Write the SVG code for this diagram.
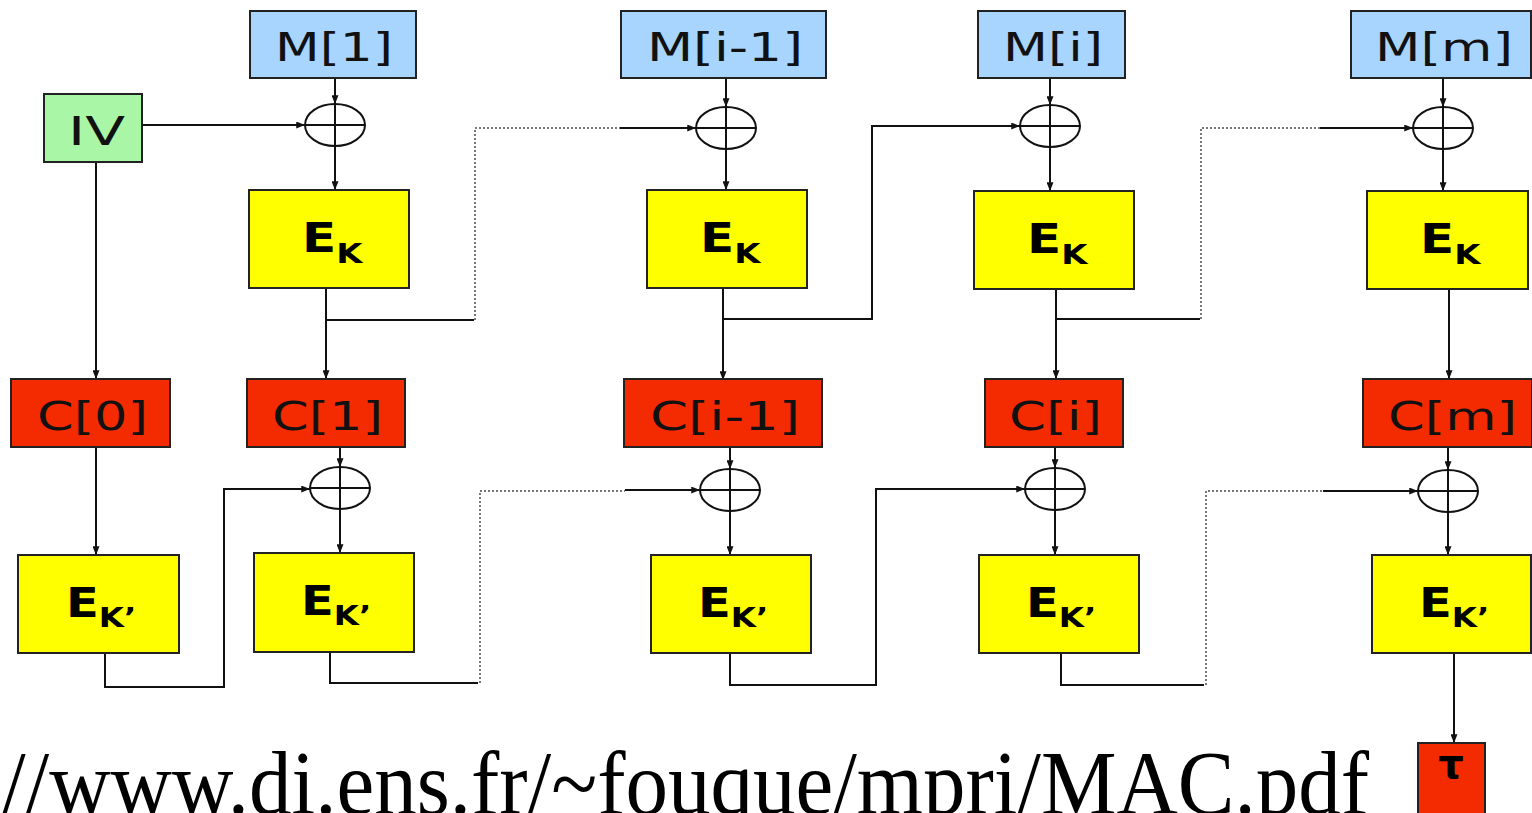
<svg xmlns="http://www.w3.org/2000/svg" width="1532" height="813" viewBox="0 0 1532 813">
<defs>
<marker id="arr" viewBox="0 0 10 8" refX="10" refY="4" markerWidth="9" markerHeight="7" markerUnits="userSpaceOnUse" orient="auto">
<path d="M0,0 L10,4 L0,8 z" fill="#111"/>
</marker>
<style>
.box{stroke:#222;stroke-width:2}
.blue{fill:#a8d5fd}
.green{fill:#a9f7a6}
.red{fill:#f42a00}
.yel{fill:#ffff00}
.lbl{font-family:"DejaVu Sans","Verdana",sans-serif;font-size:39px;fill:#111}
.ek{font-family:"DejaVu Sans","Verdana",sans-serif;font-weight:bold;font-size:40px;fill:#000}
.sub{font-size:27px}
.ln{fill:none;stroke:#111;stroke-width:2}
.ar{fill:none;stroke:#111;stroke-width:2;marker-end:url(#arr)}
.dot{fill:none;stroke:#777;stroke-width:2;stroke-dasharray:2 2}
.xor{fill:none;stroke:#111;stroke-width:2}
.url{font-family:"Liberation Serif","Times New Roman",serif;font-size:85px;fill:#000}
</style>
</defs>
<rect width="1532" height="813" fill="#fff"/>

<g id="connectors">
<path class="ar" d="M142,125 H305"/>
<path class="ar" d="M96,162 V379"/>
<path class="ar" d="M96,447 V555"/>
<path class="ar" d="M335,78 V104"/>
<path class="ar" d="M335,146 V190"/>
<path class="ar" d="M326,288 V379"/>
<path class="ln" d="M326,320 H474"/>
<path class="dot" d="M475,320 V128 H620"/>
<path class="ar" d="M620,128 H696"/>
<path class="ar" d="M726,78 V107"/>
<path class="ar" d="M726,149 V190"/>
<path class="ar" d="M723,288 V380"/>
<path class="ar" d="M723,319 H872 V126 H1020"/>
<path class="ar" d="M1050,78 V105"/>
<path class="ar" d="M1050,147 V191"/>
<path class="ar" d="M1056,289 V379"/>
<path class="ln" d="M1056,319 H1200"/>
<path class="dot" d="M1201,319 V128 H1320"/>
<path class="ar" d="M1320,128 H1413"/>
<path class="ar" d="M1443,78 V107"/>
<path class="ar" d="M1443,149 V191"/>
<path class="ar" d="M1449,289 V379"/>
<path class="ar" d="M340,447 V467"/>
<path class="ar" d="M340,509 V553"/>
<path class="ar" d="M105,653 V687 H224 V489 H310"/>
<path class="ln" d="M330,652 V683 H478"/>
<path class="dot" d="M480,683 V491 H625"/>
<path class="ar" d="M625,490 H700"/>
<path class="ar" d="M730,447 V469"/>
<path class="ar" d="M730,511 V555"/>
<path class="ar" d="M730,653 V685 H876 V489 H1025"/>
<path class="ar" d="M1055,447 V468"/>
<path class="ar" d="M1055,510 V555"/>
<path class="ln" d="M1061,653 V685 H1204"/>
<path class="dot" d="M1206,685 V491 H1323"/>
<path class="ar" d="M1323,491 H1418"/>
<path class="ar" d="M1448,447 V470"/>
<path class="ar" d="M1448,512 V555"/>
<path class="ar" d="M1454,653 V743"/>
</g>

<g id="xor1"><ellipse class="xor" cx="335" cy="125" rx="30" ry="21"/><path class="ln" d="M305,125 H365 M335,104 V146"/></g>
<g id="xor2"><ellipse class="xor" cx="726" cy="128" rx="30" ry="21"/><path class="ln" d="M696,128 H756 M726,107 V149"/></g>
<g id="xor3"><ellipse class="xor" cx="1050" cy="126" rx="30" ry="21"/><path class="ln" d="M1020,126 H1080 M1050,105 V147"/></g>
<g id="xor4"><ellipse class="xor" cx="1443" cy="128" rx="30" ry="21"/><path class="ln" d="M1413,128 H1473 M1443,107 V149"/></g>
<g id="xor5"><ellipse class="xor" cx="340" cy="488" rx="30" ry="21"/><path class="ln" d="M310,488 H370 M340,467 V509"/></g>
<g id="xor6"><ellipse class="xor" cx="730" cy="490" rx="30" ry="21"/><path class="ln" d="M700,490 H760 M730,469 V511"/></g>
<g id="xor7"><ellipse class="xor" cx="1055" cy="489" rx="30" ry="21"/><path class="ln" d="M1025,489 H1085 M1055,468 V510"/></g>
<g id="xor8"><ellipse class="xor" cx="1448" cy="491" rx="30" ry="21"/><path class="ln" d="M1418,491 H1478 M1448,470 V512"/></g>

<g id="M1"><rect class="box blue" x="250" y="11" width="166" height="67"/><text class="lbl" x="275" y="61" textLength="118" lengthAdjust="spacingAndGlyphs">M[1]</text></g>
<g id="Mi-1"><rect class="box blue" x="621" y="11" width="205" height="67"/><text class="lbl" x="647" y="61" textLength="156" lengthAdjust="spacingAndGlyphs">M[i-1]</text></g>
<g id="Mi"><rect class="box blue" x="978" y="11" width="147" height="67"/><text class="lbl" x="1003" y="61" textLength="100" lengthAdjust="spacingAndGlyphs">M[i]</text></g>
<g id="Mm"><rect class="box blue" x="1351" y="11" width="180" height="67"/><text class="lbl" x="1375" y="61" textLength="138" lengthAdjust="spacingAndGlyphs">M[m]</text></g>
<g id="IV"><rect class="box green" x="44" y="94" width="98" height="68"/><text class="lbl" x="68" y="145" font-size="41" textLength="57" lengthAdjust="spacingAndGlyphs">IV</text></g>

<g id="EK1"><rect class="box yel" x="249" y="190" width="160" height="98"/><text class="ek" transform="translate(302,252) scale(1.25,1)">E<tspan class="sub" dy="11">K</tspan></text></g>
<g id="EK2"><rect class="box yel" x="647" y="190" width="160" height="98"/><text class="ek" transform="translate(700,252) scale(1.25,1)">E<tspan class="sub" dy="11">K</tspan></text></g>
<g id="EK3"><rect class="box yel" x="974" y="191" width="160" height="98"/><text class="ek" transform="translate(1027,253) scale(1.25,1)">E<tspan class="sub" dy="11">K</tspan></text></g>
<g id="EK4"><rect class="box yel" x="1367" y="191" width="161" height="98"/><text class="ek" transform="translate(1420,253) scale(1.25,1)">E<tspan class="sub" dy="11">K</tspan></text></g>

<g id="C0"><rect class="box red" x="11" y="379" width="159" height="68"/><text class="lbl" x="37" y="430" font-size="41" textLength="111" lengthAdjust="spacingAndGlyphs">C[0]</text></g>
<g id="C1"><rect class="box red" x="247" y="379" width="158" height="68"/><text class="lbl" x="272" y="430" font-size="41" textLength="111" lengthAdjust="spacingAndGlyphs">C[1]</text></g>
<g id="Ci-1"><rect class="box red" x="624" y="379" width="198" height="68"/><text class="lbl" x="650" y="430" font-size="41" textLength="150" lengthAdjust="spacingAndGlyphs">C[i-1]</text></g>
<g id="Ci"><rect class="box red" x="985" y="379" width="138" height="68"/><text class="lbl" x="1009" y="430" font-size="41" textLength="93" lengthAdjust="spacingAndGlyphs">C[i]</text></g>
<g id="Cm"><rect class="box red" x="1363" y="379" width="169" height="68"/><text class="lbl" x="1388" y="430" font-size="41" textLength="129" lengthAdjust="spacingAndGlyphs">C[m]</text></g>

<g id="EKp1"><rect class="box yel" x="18" y="555" width="161" height="98"/><text class="ek" transform="translate(66,617) scale(1.2,1)">E<tspan class="sub" dy="10">K’</tspan></text></g>
<g id="EKp2"><rect class="box yel" x="254" y="553" width="160" height="99"/><text class="ek" transform="translate(301,615) scale(1.2,1)">E<tspan class="sub" dy="10">K’</tspan></text></g>
<g id="EKp3"><rect class="box yel" x="651" y="555" width="160" height="98"/><text class="ek" transform="translate(698,617) scale(1.2,1)">E<tspan class="sub" dy="10">K’</tspan></text></g>
<g id="EKp4"><rect class="box yel" x="979" y="555" width="160" height="98"/><text class="ek" transform="translate(1026,617) scale(1.2,1)">E<tspan class="sub" dy="10">K’</tspan></text></g>
<g id="EKp5"><rect class="box yel" x="1372" y="555" width="159" height="98"/><text class="ek" transform="translate(1419,617) scale(1.2,1)">E<tspan class="sub" dy="10">K’</tspan></text></g>

<g id="tau"><rect class="box red" x="1418" y="743" width="67" height="80"/><text class="ek" x="1451" y="778" font-size="30" text-anchor="middle">τ</text></g>

<text class="url" transform="translate(2,814) scale(1,1.08)">//www.di.ens.fr/~fouque/mpri/MAC.pdf</text>
</svg>
